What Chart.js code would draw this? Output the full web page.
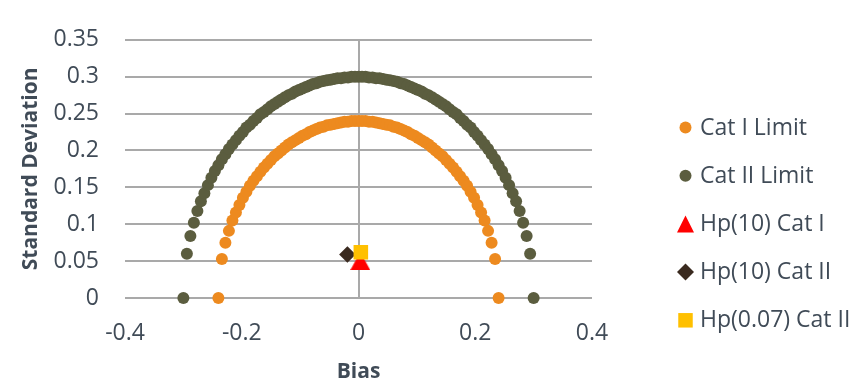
<!DOCTYPE html>
<html>
<head>
<meta charset="utf-8">
<script src="https://cdn.jsdelivr.net/npm/chart.js@4.4.1/dist/chart.umd.min.js"></script>
<style>
html,body{margin:0;padding:0;background:#ffffff;overflow:hidden}
#wrap{width:868px;height:383px;position:relative}
</style>
</head>
<body>
<div id="wrap"><canvas id="c" width="868" height="383"></canvas></div>
<script>
// ---------- data ----------
const seriesNames = ['Cat I Limit', 'Cat II Limit', 'Hp(10) Cat I', 'Hp(10) Cat II', 'Hp(0.07) Cat II'];

const catIBias = [
  -0.240,-0.234,-0.228,-0.222,-0.216,-0.210,-0.204,-0.198,-0.192,-0.186,
  -0.180,-0.174,-0.168,-0.162,-0.156,-0.150,-0.144,-0.138,-0.132,-0.126,
  -0.120,-0.114,-0.108,-0.102,-0.096,-0.090,-0.084,-0.078,-0.072,-0.066,
  -0.060,-0.054,-0.048,-0.042,-0.036,-0.030,-0.024,-0.018,-0.012,-0.006,
  0,
  0.006,0.012,0.018,0.024,0.030,0.036,0.042,0.048,0.054,0.060,
  0.066,0.072,0.078,0.084,0.090,0.096,0.102,0.108,0.114,0.120,
  0.126,0.132,0.138,0.144,0.150,0.156,0.162,0.168,0.174,0.180,
  0.186,0.192,0.198,0.204,0.210,0.216,0.222,0.228,0.234,0.240
];
const catISD = [
  0,0.053,0.075,0.091,0.105,0.116,0.126,0.136,0.144,0.152,
  0.159,0.165,0.171,0.177,0.182,0.187,0.192,0.196,0.200,0.204,
  0.208,0.211,0.214,0.217,0.220,0.222,0.225,0.227,0.229,0.231,
  0.232,0.234,0.235,0.236,0.237,0.238,0.239,0.239,0.240,0.240,
  0.240,
  0.240,0.240,0.239,0.239,0.238,0.237,0.236,0.235,0.234,0.232,
  0.231,0.229,0.227,0.225,0.222,0.220,0.217,0.214,0.211,0.208,
  0.204,0.200,0.196,0.192,0.187,0.182,0.177,0.171,0.165,0.159,
  0.152,0.144,0.136,0.126,0.116,0.105,0.091,0.075,0.053,0
];

const catIIBias = [
  -0.300,-0.294,-0.288,-0.282,-0.276,-0.270,-0.264,-0.258,-0.252,-0.246,
  -0.240,-0.234,-0.228,-0.222,-0.216,-0.210,-0.204,-0.198,-0.192,-0.186,
  -0.180,-0.174,-0.168,-0.162,-0.156,-0.150,-0.144,-0.138,-0.132,-0.126,
  -0.120,-0.114,-0.108,-0.102,-0.096,-0.090,-0.084,-0.078,-0.072,-0.066,
  -0.060,-0.054,-0.048,-0.042,-0.036,-0.030,-0.024,-0.018,-0.012,-0.006,
  0,
  0.006,0.012,0.018,0.024,0.030,0.036,0.042,0.048,0.054,0.060,
  0.066,0.072,0.078,0.084,0.090,0.096,0.102,0.108,0.114,0.120,
  0.126,0.132,0.138,0.144,0.150,0.156,0.162,0.168,0.174,0.180,
  0.186,0.192,0.198,0.204,0.210,0.216,0.222,0.228,0.234,0.240,
  0.246,0.252,0.258,0.264,0.270,0.276,0.282,0.288,0.294,0.300
];
const catIISD = [
  0,0.060,0.084,0.102,0.118,0.131,0.142,0.153,0.163,0.172,
  0.180,0.188,0.195,0.202,0.208,0.214,0.220,0.225,0.231,0.235,
  0.240,0.244,0.249,0.252,0.256,0.260,0.263,0.266,0.269,0.272,
  0.275,0.277,0.280,0.282,0.284,0.286,0.288,0.290,0.291,0.293,
  0.294,0.295,0.296,0.297,0.298,0.298,0.299,0.299,0.300,0.300,
  0.300,
  0.300,0.300,0.299,0.299,0.298,0.298,0.297,0.296,0.295,0.294,
  0.293,0.291,0.290,0.288,0.286,0.284,0.282,0.280,0.277,0.275,
  0.272,0.269,0.266,0.263,0.260,0.256,0.252,0.249,0.244,0.240,
  0.235,0.231,0.225,0.220,0.214,0.208,0.202,0.195,0.188,0.180,
  0.172,0.163,0.153,0.142,0.131,0.118,0.102,0.084,0.060,0
];

// Hp(10) Cat I, Hp(10) Cat II, Hp(0.07) Cat II
const hpBias = [0.003, -0.019, 0.004];
const hpSD   = [0.050, 0.059, 0.062];

const xTickValues = [-0.4, -0.2, 0, 0.2, 0.4];
const xTickLabels = ['-0.4', '-0.2', '0', '0.2', '0.4'];
const yTickValues = [0, 0.05, 0.1, 0.15, 0.2, 0.25, 0.3, 0.35];
const yTickLabels = ['0', '0.05', '0.1', '0.15', '0.2', '0.25', '0.3', '0.35'];

const xTitle = 'Bias';
const yTitle = 'Standard Deviation';

// ---------- styles ----------
const cOrange = '#ED8A1F';
const cOlive  = '#5B5D3F';
const cRed    = '#FF0000';
const cBrown  = '#3A2A1F';
const cGold   = '#FFC000';
const textColor = '#404b57';
const gridColor = '#a9a9a9';
const FONT = "'Open Sans', sans-serif";

function triangleImage(w, h, color) {
  const cv = document.createElement('canvas');
  cv.width = w; cv.height = h;
  const g = cv.getContext('2d');
  g.fillStyle = color;
  g.beginPath();
  g.moveTo(w / 2, 0);
  g.lineTo(w, h);
  g.lineTo(0, h);
  g.closePath();
  g.fill();
  return cv;
}

const toPoints = (xs, ys) => xs.map((x, i) => ({ x: x, y: ys[i] }));

// legend drawn at the right side
const legendMarkers = [
  { type: 'circle', color: cOrange, size: 6 },
  { type: 'circle', color: cOlive, size: 6 },
  { type: 'triangle', color: cRed, size: 17 },
  { type: 'diamond', color: cBrown, size: 8.5 },
  { type: 'square', color: cGold, size: 14.5 }
];

const sideLegend = {
  id: 'sideLegend',
  afterDraw(chart) {
    const ctx = chart.ctx;
    ctx.save();
    ctx.font = "23px " + FONT;
    ctx.textBaseline = 'middle';
    ctx.textAlign = 'left';
    const mx = 685.5, tx = 700, y0 = 127.5, dy = 48.2;
    chart.data.datasets.forEach((ds, i) => {
      const m = legendMarkers[i];
      const y = y0 + i * dy;
      ctx.fillStyle = m.color;
      ctx.beginPath();
      if (m.type === 'circle') {
        ctx.arc(mx, y, m.size, 0, Math.PI * 2);
      } else if (m.type === 'triangle') {
        ctx.moveTo(mx, y - m.size / 2);
        ctx.lineTo(mx + m.size / 2, y + m.size / 2);
        ctx.lineTo(mx - m.size / 2, y + m.size / 2);
        ctx.closePath();
      } else if (m.type === 'diamond') {
        ctx.moveTo(mx, y - m.size);
        ctx.lineTo(mx + m.size, y);
        ctx.lineTo(mx, y + m.size);
        ctx.lineTo(mx - m.size, y);
        ctx.closePath();
      } else {
        ctx.rect(mx - m.size / 2, y - m.size / 2, m.size, m.size);
      }
      ctx.fill();
      ctx.fillStyle = textColor;
      ctx.fillText(ds.label, tx, y + 0.5);
    });
    ctx.restore();
  }
};

new Chart(document.getElementById('c'), {
  type: 'scatter',
  data: {
    datasets: [
      { label: seriesNames[0], data: toPoints(catIBias, catISD), backgroundColor: cOrange, borderColor: cOrange,
        pointRadius: 6, pointBorderWidth: 0, order: 4, clip: false },
      { label: seriesNames[1], data: toPoints(catIIBias, catIISD), backgroundColor: cOlive, borderColor: cOlive,
        pointRadius: 6, pointBorderWidth: 0, order: 3, clip: false },
      { label: seriesNames[2], data: toPoints([hpBias[0]], [hpSD[0]]), backgroundColor: cRed, borderColor: cRed,
        pointStyle: triangleImage(20, 18, cRed), pointRadius: 10, pointBorderWidth: 0, order: 2, clip: false },
      { label: seriesNames[3], data: toPoints([hpBias[1]], [hpSD[1]]), backgroundColor: cBrown, borderColor: cBrown,
        pointStyle: 'rectRot', pointRadius: 8.3, pointBorderWidth: 0, order: 1, clip: false },
      { label: seriesNames[4], data: toPoints([hpBias[2]], [hpSD[2]]), backgroundColor: cGold, borderColor: cGold,
        pointStyle: 'rect', pointRadius: 10.3, pointBorderWidth: 0, order: 0, clip: false }
    ]
  },
  options: {
    responsive: false,
    animation: false,
    devicePixelRatio: 1,
    events: [],
    layout: { padding: { top: 17, right: 276, bottom: 0, left: 0 } },
    plugins: {
      legend: { display: false },
      tooltip: { enabled: false },
      title: { display: false }
    },
    scales: {
      x: {
        type: 'linear',
        min: -0.4, max: 0.4,
        afterFit: s => { s.height = 85; },
        afterBuildTicks: s => { s.ticks = xTickValues.map(v => ({ value: v })); },
        ticks: {
          padding: 22,
          color: textColor,
          font: { family: FONT, size: 23 },
          maxRotation: 0,
          callback: (v, i) => xTickLabels[i]
        },
        grid: {
          drawTicks: false,
          lineWidth: 2,
          color: c => (c.tick && c.tick.value === 0) ? gridColor : 'rgba(0,0,0,0)'
        },
        border: { display: false },
        title: {
          display: true, text: xTitle, color: textColor,
          font: { family: FONT, size: 21, weight: 'bold', lineHeight: 1 },
          padding: { top: 0, bottom: 0 }
        }
      },
      y: {
        type: 'linear',
        min: 0, max: 0.35,
        afterFit: s => { s.width = 125; },
        afterBuildTicks: s => { s.ticks = yTickValues.map(v => ({ value: v })); },
        ticks: {
          padding: 26,
          color: textColor,
          font: { family: FONT, size: 23 },
          callback: (v, i) => yTickLabels[i]
        },
        grid: { drawTicks: false, lineWidth: 2, color: gridColor },
        border: { display: false },
        title: {
          display: true, text: yTitle, color: textColor,
          font: { family: FONT, size: 21, weight: 'bold', lineHeight: 1 },
          padding: { top: 20.5, bottom: 0 }
        }
      }
    }
  },
  plugins: [sideLegend]
});
</script>
</body>
</html>
